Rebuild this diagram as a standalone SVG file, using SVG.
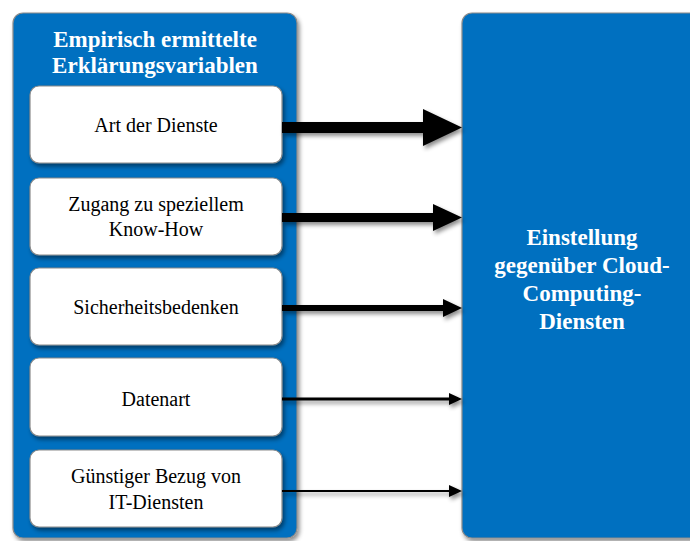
<svg xmlns="http://www.w3.org/2000/svg" width="690" height="541" viewBox="0 0 690 541">
<defs>
<filter id="sh" x="-10%" y="-10%" width="130%" height="130%">
<feDropShadow dx="2" dy="3" stdDeviation="2" flood-color="#000" flood-opacity="0.45"/>
</filter>
</defs>
<style>
.cont{fill:#0070C0;stroke:#8a8a8a;stroke-width:1.2}
.box{fill:#fff;stroke:#8a8a8a;stroke-width:1.2}
.t{font-family:"Liberation Serif","Times New Roman",serif;font-size:20px;fill:#000;text-anchor:middle}
.h{font-family:"Liberation Serif","Times New Roman",serif;font-size:23px;font-weight:bold;fill:#fff;text-anchor:middle}
.arr{fill:#000}
</style>
<rect width="690" height="541" fill="#fff"/>
<g id="left-container">
<rect class="cont" x="13" y="13" width="284" height="525" rx="10" filter="url(#sh)"/>
<text class="h" x="155" y="47">Empirisch ermittelte</text>
<text class="h" x="155" y="73">Erklärungsvariablen</text>
</g>
<g id="right-container">
<rect class="cont" x="462" y="13" width="240" height="525" rx="10" filter="url(#sh)"/>
<text class="h" x="582" y="245">Einstellung</text>
<text class="h" x="582" y="273">gegenüber Cloud-</text>
<text class="h" x="582" y="301">Computing-</text>
<text class="h" x="582" y="329">Diensten</text>
</g>
<g id="n1">
<rect class="box" x="30" y="86" width="252" height="77" rx="9" filter="url(#sh)"/>
<text class="t" x="156" y="132">Art der Dienste</text>
</g>
<g id="n2">
<rect class="box" x="30" y="178" width="252" height="77" rx="9" filter="url(#sh)"/>
<text class="t" x="156" y="211">Zugang zu speziellem</text>
<text class="t" x="156" y="236">Know-How</text>
</g>
<g id="n3">
<rect class="box" x="30" y="268" width="252" height="77" rx="9" filter="url(#sh)"/>
<text class="t" x="156" y="314">Sicherheitsbedenken</text>
</g>
<g id="n4">
<rect class="box" x="30" y="358" width="252" height="78" rx="9" filter="url(#sh)"/>
<text class="t" x="156" y="406">Datenart</text>
</g>
<g id="n5">
<rect class="box" x="30" y="450" width="252" height="77" rx="9" filter="url(#sh)"/>
<text class="t" x="156" y="483">Günstiger Bezug von</text>
<text class="t" x="156" y="509">IT-Diensten</text>
</g>
<g id="connectors" filter="url(#sh)">
<path class="arr" d="M282,122 H423 V109 L462,127.5 L423,146 V133 H282 Z"/>
<path class="arr" d="M282,213 H433 V204 L462,217.5 L433,231 V222 H282 Z"/>
<path class="arr" d="M282,305 H443 V299 L462,308 L443,317 V311 H282 Z"/>
<path class="arr" d="M282,397.5 H449 V393 L462,399 L449,405 V400.5 H282 Z"/>
<path class="arr" d="M282,490 H449 V485 L462,491 L449,497 V492 H282 Z"/>
</g>
</svg>
